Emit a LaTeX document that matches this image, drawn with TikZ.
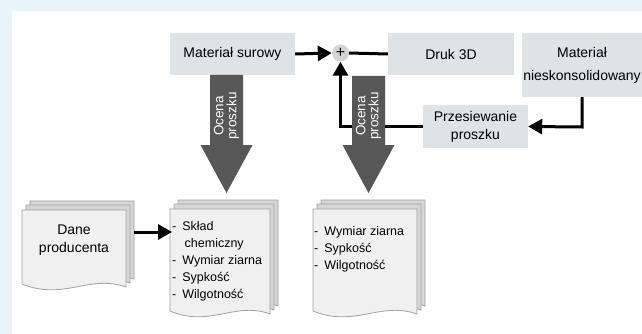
\documentclass[tikz,border=0pt]{standalone}
\usepackage{fontspec}
\setmainfont{Liberation Sans}
\usetikzlibrary{arrows.meta,calc}
\definecolor{bgblue}{HTML}{E8F3F9}
\definecolor{boxgrey}{HTML}{DFE3E5}
\definecolor{plusgrey}{HTML}{D4D4D4}
\definecolor{arrowgrey}{HTML}{575757}
\definecolor{docfront}{HTML}{F0F0F0}
\definecolor{docback}{HTML}{D6D6D6}
\definecolor{docline}{HTML}{A0A0A0}
\newcommand\docshape[5]{%
  \filldraw[draw=docline,fill=#5,line width=0.8pt]
    (#1,#2) -- (#3,#2) -- (#3,#4)
    .. controls ({#3-0.35*(#3-#1)},{#4-13}) and ({#1+0.4*(#3-#1)},{#4+14}) .. (#1,{#4-3}) -- cycle;}
\tikzset{
  boxnode/.style={fill=boxgrey,inner sep=0pt,font=\fontsize{14}{18}\selectfont,align=center},
  conn/.style={line width=3pt,-{Triangle[length=14pt,width=15pt]}},
  plainconn/.style={line width=3pt},
  bigarrow/.style={fill=arrowgrey,draw=none},
  listtext/.style={font=\fontsize{12.5}{17}\selectfont,align=left,inner sep=0pt,anchor=north west},
  rottext/.style={font=\fontsize{13.5}{13}\selectfont,text=white,align=center,rotate=90,inner sep=0pt},
}
\begin{document}
\begin{tikzpicture}[x=1pt,y=-1pt]
\useasboundingbox (0,0) rectangle (642,334);
\fill[bgblue] (0,0) rectangle (642,334);
\fill[white] (12,11) rectangle (642,334);

% top boxes
\node[boxnode,minimum width=125pt,minimum height=42pt] (surowy) at (232.5,54) {Materiał surowy};
\node[boxnode,minimum width=126pt,minimum height=42pt] (druk) at (451,54) {Druk 3D};
\node[boxnode,minimum width=120pt,minimum height=64pt] (nieskon) at (582,65) {Materiał\\[5pt]nieskonsolidowany};
\node[boxnode,minimum width=105pt,minimum height=43pt] (przes) at (475.5,126.5) {Przesiewanie\\proszku};
\node[circle,fill=plusgrey,minimum size=17pt,inner sep=0pt,font=\fontsize{16}{16}\selectfont] (plus) at (340.5,53) {+};

% connectors
\draw[conn] (surowy.east) -- (plus.west);
\draw[plainconn] (plus.east) -- (druk.west);
\coordinate (nsdown) at (582,127);
\draw[conn] (nieskon.south -| nsdown) -- (nsdown) -- (przes.east);
\coordinate (fbcorner) at (340.5,126.5);
\draw[conn] (przes.west) -- (fbcorner) -- (plus.south);

% big arrows
\fill[bigarrow] (210,75) -- (243,75) -- (243,145) -- (252.5,145) -- (226.5,193) -- (200.5,145) -- (210,145) -- cycle;
\node[rottext] (ocena1) at (226.5,116) {Ocena\\proszku};
\fill[bigarrow] (352,76) -- (385,76) -- (385,145) -- (394.5,145) -- (368.5,193) -- (342.5,145) -- (352,145) -- cycle;
\node[rottext] (ocena2) at (368.5,116) {Ocena\\proszku};

% documents
\docshape{30}{201}{134}{279}{docback}
\docshape{26}{205}{130}{283}{docback}
\docshape{22}{210}{126}{287}{docfront}
\node[font=\fontsize{14}{18}\selectfont,align=center,inner sep=0pt] (dane) at (74,240) {Dane\\producenta};

\docshape{178}{200}{278}{306}{docback}
\docshape{174}{204}{274}{310}{docback}
\docshape{170}{209}{270}{314}{docfront}
\node[listtext] (sklad) at (172,221) {-\hspace{6pt}Skład\\\hspace{12.5pt}chemiczny\\-\hspace{6pt}Wymiar ziarna\\-\hspace{6pt}Sypkość\\-\hspace{6pt}Wilgotność};

\docshape{321}{200}{425}{306}{docback}
\docshape{317}{204}{421}{310}{docback}
\docshape{313}{209}{417}{314}{docfront}
\node[listtext] (param) at (314,226) {-\hspace{6pt}Wymiar ziarna\\-\hspace{6pt}Sypkość\\-\hspace{6pt}Wilgotność};

\coordinate (danearrow) at (134,232);
\draw[conn] (danearrow) -- (danearrow -| sklad.west);
\end{tikzpicture}
\end{document}
